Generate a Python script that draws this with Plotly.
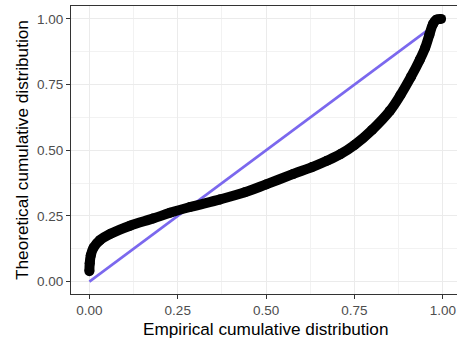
import plotly.graph_objects as go

# Empirical vs theoretical cumulative distribution
empirical = [0.000, 0.001, 0.004, 0.012, 0.030, 0.060, 0.115, 0.180, 0.228, 0.285,
             0.370, 0.440, 0.500, 0.577, 0.630, 0.672, 0.710, 0.750, 0.800, 0.850,
             0.880, 0.910, 0.935, 0.950, 0.962, 0.972, 0.982, 0.995]
theoretical = [0.040, 0.070, 0.100, 0.130, 0.158, 0.182, 0.213, 0.240, 0.262, 0.284,
               0.313, 0.340, 0.370, 0.410, 0.436, 0.460, 0.485, 0.520, 0.578, 0.650,
               0.710, 0.780, 0.845, 0.890, 0.940, 0.980, 0.997, 1.000]

ref_x = [0, 1]
ref_y = [0, 1]

tick_vals = [0, 0.25, 0.5, 0.75, 1.0]
tick_text = ["0.00", "0.25", "0.50", "0.75", "1.00"]

x_title = "Empirical cumulative distribution"
y_title = "Theoretical cumulative distribution"

fig = go.Figure()
fig.add_trace(go.Scatter(x=ref_x, y=ref_y, mode="lines",
                         line=dict(color="#7B68EE", width=2.6), hoverinfo="skip"))
fig.add_trace(go.Scatter(x=empirical, y=theoretical, mode="lines+markers",
                         line=dict(color="black", width=10, shape="spline"),
                         marker=dict(color="black", size=10)))

font = "Liberation Sans, Arial, Helvetica, sans-serif"
axis_common = dict(
    tickvals=tick_vals, ticktext=tick_text,
    showgrid=True, gridcolor="#EBEBEB", gridwidth=1.1,
    minor=dict(dtick=0.125, tick0=0, showgrid=True, gridcolor="#F2F2F2", gridwidth=0.6),
    zeroline=False, ticks="outside", ticklen=4, tickcolor="#333333", tickwidth=1,
    tickfont=dict(family=font, size=13.5, color="#4D4D4D"),
    showline=True, linecolor="#333333", linewidth=1,
    automargin=False,
)

fig.update_layout(
    width=457, height=341,
    margin=dict(l=71, r=0, t=6, b=47, autoexpand=False),
    paper_bgcolor="white", plot_bgcolor="white",
    showlegend=False,
    xaxis=dict(range=[-0.052, 1.04], mirror=True, **axis_common),
    yaxis=dict(range=[-0.047, 1.049], mirror=False, **axis_common),
    annotations=[
        dict(text=x_title, xref="x", yref="paper", x=0.5, y=-0.122,
             xanchor="center", yanchor="middle", showarrow=False,
             font=dict(family=font, size=17.2, color="black")),
        dict(text=y_title, xref="paper", yref="paper", x=-0.127, y=0.5,
             xanchor="center", yanchor="middle", showarrow=False, textangle=-90,
             font=dict(family=font, size=17.2, color="black")),
    ],
)

fig.write_html("out.html", config={"displayModeBar": False},
               post_script="document.body.style.margin='0';document.body.style.padding='0';")
